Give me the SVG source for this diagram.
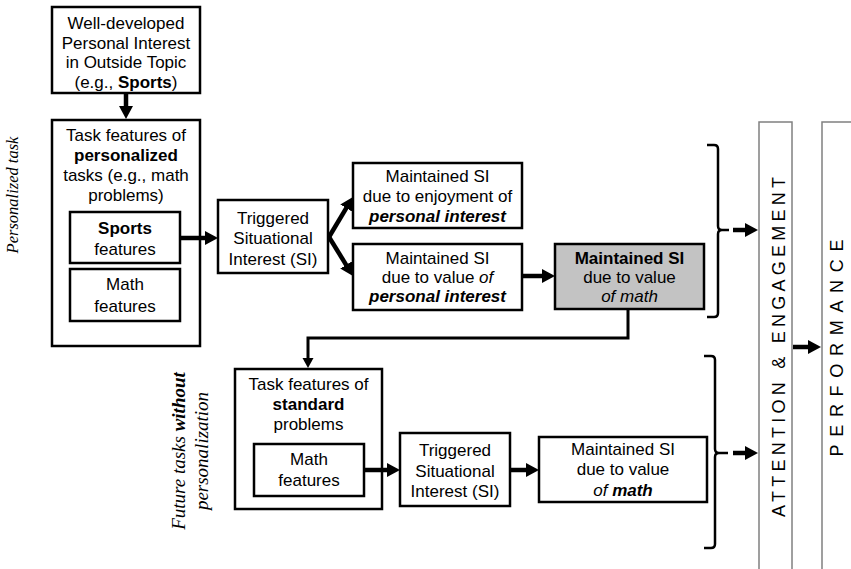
<svg xmlns="http://www.w3.org/2000/svg" width="851" height="569" viewBox="0 0 851 569">
<style>
.bx{fill:#fff;stroke:#000;stroke-width:2.5}
.gr{fill:#c3c3c3;stroke:#000;stroke-width:2.5}
.col{fill:#fff;stroke:#808080;stroke-width:1.5}
text{font-family:"Liberation Sans",Arial,sans-serif;font-size:17px;fill:#000;text-anchor:middle}
.b{font-weight:bold}
.i{font-style:italic}
.lab{font-family:"Liberation Serif","Times New Roman",serif;font-style:italic;font-size:16.5px}
.lab2{font-family:"Liberation Serif","Times New Roman",serif;font-style:italic;font-size:19px}
.big{font-size:18px}
.ar{fill:none;stroke:#000;stroke-width:4.5}
.thin{fill:none;stroke:#000;stroke-width:3}
.br{fill:none;stroke:#000;stroke-width:2.5;stroke-linejoin:round}
</style>
<defs>
<marker id="ah" markerUnits="userSpaceOnUse" markerWidth="14" markerHeight="15" refX="2" refY="7" orient="auto" viewBox="0 0 14 15">
<path d="M0,0 L13,7 L0,14 z" fill="#000"/>
</marker>
<marker id="ahs" markerUnits="userSpaceOnUse" markerWidth="12" markerHeight="12" refX="2" refY="5.5" orient="auto" viewBox="0 0 12 12">
<path d="M0,0 L10,5.5 L0,11 z" fill="#000"/>
</marker>
</defs>

<g id="label-personalized">
<text class="lab" transform="translate(18,195) rotate(-90)">Personalized task</text>
</g>
<g id="label-future">
<text class="lab2" transform="translate(185,451) rotate(-90)">Future tasks <tspan font-weight="bold">without</tspan></text>
<text class="lab2" transform="translate(208,451) rotate(-90)">personalization</text>
</g>

<g id="personal-interest">
<rect class="bx" x="52" y="7" width="148" height="86"/>
<text x="126" y="29">Well-developed</text>
<text x="126" y="48.5">Personal Interest</text>
<text x="126" y="68">in Outside Topic</text>
<text x="126" y="87.5">(e.g., <tspan class="b">Sports</tspan>)</text>
</g>

<g id="personalized-task">
<rect class="bx" x="52" y="120" width="148" height="226"/>
<text x="126" y="141">Task features of</text>
<text x="126" y="161" class="b">personalized</text>
<text x="126" y="181">tasks (e.g., math</text>
<text x="126" y="201">problems)</text>
</g>
<g id="sports-features">
<rect class="bx" x="70" y="212" width="110" height="51"/>
<text x="125" y="234" class="b">Sports</text>
<text x="125" y="255">features</text>
</g>
<g id="math-features-1">
<rect class="bx" x="70" y="269" width="110" height="52"/>
<text x="125" y="290">Math</text>
<text x="125" y="312">features</text>
</g>

<g id="triggered-1">
<rect class="bx" x="218" y="200" width="110" height="73"/>
<text x="273" y="224">Triggered</text>
<text x="273" y="244">Situational</text>
<text x="273" y="265">Interest (SI)</text>
</g>

<g id="maintained-enjoyment">
<rect class="bx" x="353" y="163" width="169" height="65"/>
<text x="437.5" y="182">Maintained SI</text>
<text x="437.5" y="202">due to enjoyment of</text>
<text x="437.5" y="222" class="b i">personal interest</text>
</g>

<g id="maintained-value-pi">
<rect class="bx" x="353" y="244" width="169" height="66"/>
<text x="437.5" y="264">Maintained SI</text>
<text x="437.5" y="283">due to value <tspan class="i">of</tspan></text>
<text x="437.5" y="302" class="b i">personal interest</text>
</g>

<g id="maintained-value-math">
<rect class="gr" x="555" y="244" width="149" height="65"/>
<text x="629.5" y="264" class="b">Maintained SI</text>
<text x="629.5" y="283">due to value</text>
<text x="629.5" y="302" class="i">of math</text>
</g>

<g id="standard-task">
<rect class="bx" x="235" y="369" width="147" height="140"/>
<text x="308.5" y="390">Task features of</text>
<text x="308.5" y="410" class="b">standard</text>
<text x="308.5" y="430">problems</text>
</g>
<g id="math-features-2">
<rect class="bx" x="254" y="444" width="110" height="52"/>
<text x="309" y="465">Math</text>
<text x="309" y="486">features</text>
</g>

<g id="triggered-2">
<rect class="bx" x="400" y="433" width="110" height="73"/>
<text x="455" y="456">Triggered</text>
<text x="455" y="477">Situational</text>
<text x="455" y="497">Interest (SI)</text>
</g>

<g id="maintained-math-2">
<rect class="bx" x="539" y="437" width="168" height="65"/>
<text x="623" y="455">Maintained SI</text>
<text x="623" y="475">due to value</text>
<text x="623" y="496"><tspan class="i">of </tspan><tspan class="b i">math</tspan></text>
</g>

<g id="attention-engagement">
<rect class="col" x="759" y="122" width="33" height="460"/>
<text class="big" transform="translate(785,347) rotate(-90)" textLength="340" lengthAdjust="spacing">ATTENTION &amp; ENGAGEMENT</text>
</g>
<g id="performance">
<rect class="col" x="822" y="122" width="40" height="460"/>
<text class="big" transform="translate(843,348) rotate(-90)" textLength="217" lengthAdjust="spacing">PERFORMANCE</text>
</g>

<g id="connectors">
<line class="ar" x1="126" y1="93" x2="126" y2="108" marker-end="url(#ah)"/>
<line class="ar" x1="180" y1="238" x2="207" y2="238" marker-end="url(#ah)"/>
<line class="ar" x1="329" y1="237" x2="347.3" y2="206.4" marker-end="url(#ah)"/>
<line class="ar" x1="329" y1="237" x2="347.2" y2="266.6" marker-end="url(#ah)"/>
<line class="ar" x1="522" y1="276" x2="544" y2="276" marker-end="url(#ah)"/>
<polyline class="thin" points="628,309 628,338 308,338 308,360" marker-end="url(#ahs)"/>
<line class="ar" x1="364" y1="470" x2="389" y2="470" marker-end="url(#ah)"/>
<line class="ar" x1="510" y1="470" x2="528" y2="470" marker-end="url(#ah)"/>
<path class="br" d="M707,145 H714 Q718,145 718,149 V226 Q718,230 722,230 H729 M722,230 Q718,230 718,234 V313 Q718,317 714,317 H707"/>
<path class="br" d="M704,356 H711 Q715,356 715,360 V449 Q715,453 719,453 H728 M719,453 Q715,453 715,457 V544 Q715,548 711,548 H704"/>
<line class="ar" x1="733" y1="230" x2="747" y2="230" marker-end="url(#ah)"/>
<line class="ar" x1="733" y1="453" x2="747" y2="453" marker-end="url(#ah)"/>
<line class="ar" x1="793" y1="347" x2="810" y2="347" marker-end="url(#ah)"/>
</g>
</svg>
